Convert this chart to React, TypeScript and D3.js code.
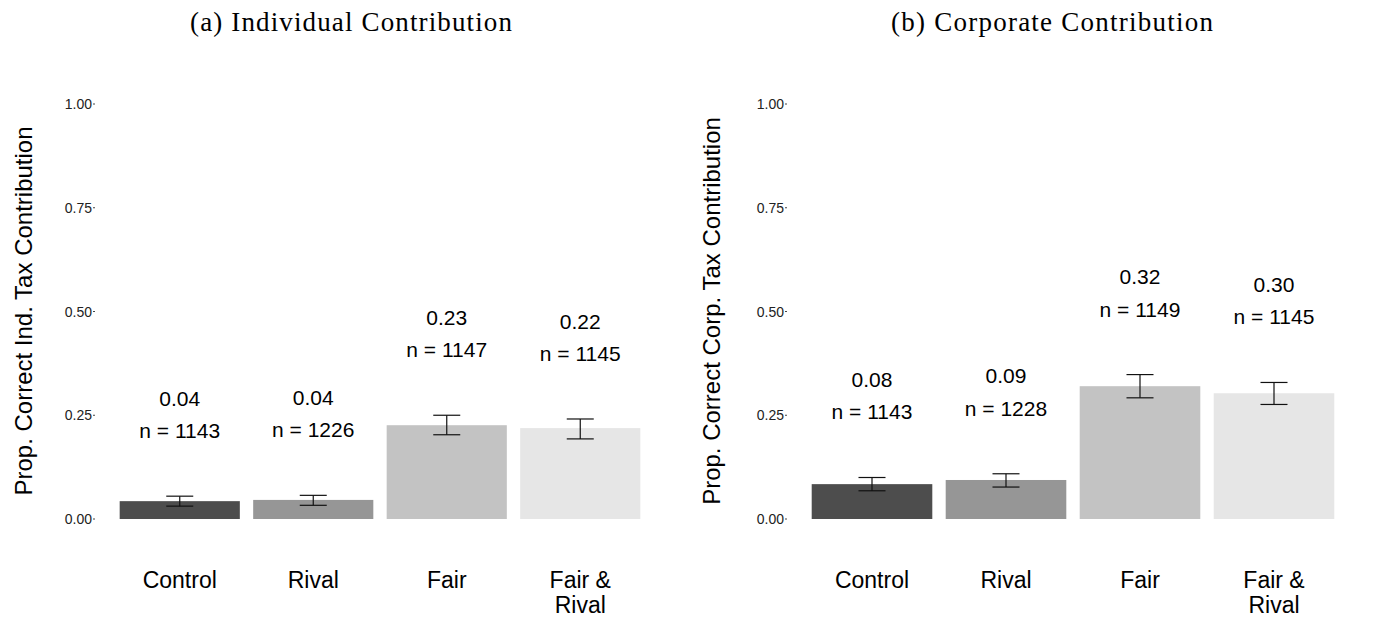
import React, { useEffect, useRef } from 'react';
import * as d3 from 'd3';

const categories = ['Control', 'Rival', 'Fair', 'Fair & Rival'];
const fills = ['#4d4d4d', '#969696', '#c3c3c3', '#e6e6e6'];
const yTicks = [0, 0.25, 0.5, 0.75, 1];

const indMean = [0.043, 0.046, 0.226, 0.219];
const indLower = [0.031, 0.033, 0.203, 0.193];
const indUpper = [0.055, 0.057, 0.25, 0.241];
const indLabel = ['0.04', '0.04', '0.23', '0.22'];
const indN = [1143, 1226, 1147, 1145];

const corpMean = [0.084, 0.094, 0.32, 0.303];
const corpLower = [0.068, 0.077, 0.292, 0.276];
const corpUpper = [0.1, 0.109, 0.348, 0.329];
const corpLabel = ['0.08', '0.09', '0.32', '0.30'];
const corpN = [1143, 1228, 1149, 1145];

const panels = [
  {
    title: '(a) Individual Contribution',
    yTitle: 'Prop. Correct Ind. Tax Contribution',
    mean: indMean, lower: indLower, upper: indUpper, label: indLabel, n: indN,
    left: 0,
  },
  {
    title: '(b) Corporate Contribution',
    yTitle: 'Prop. Correct Corp. Tax Contribution',
    mean: corpMean, lower: corpLower, upper: corpUpper, label: corpLabel, n: corpN,
    left: 688,
  },
];

const App = () => {
  const svgRef = useRef<SVGSVGElement | null>(null);

  useEffect(() => {
    const svg = d3.select(svgRef.current);
    svg.selectAll('*').remove();

    const sans = 'Liberation Sans, Arial, sans-serif';

    const y = d3.scaleLinear().domain([0, 1]).range([519, 104]);

    panels.forEach((p, pi) => {
      const g = svg.append('g').attr('transform', `translate(${p.left},0)`);
      // plot area in panel coords
      const x0 = pi === 0 ? 113 : 117;
      const x1 = pi === 0 ? 647 : 653;
      const x = d3.scalePoint<string>().domain(categories).range([x0, x1]).padding(0.5);
      const bw = x.step() * 0.9;
      const axisX = x0 - 19;

      // title
      g.append('text')
        .attr('x', pi === 0 ? 351 : 364)
        .attr('y', 31)
        .attr('text-anchor', 'middle')
        .attr('font-family', 'Liberation Serif, Times New Roman, serif')
        .attr('font-size', 27)
        .attr('textLength', 322)
        .attr('lengthAdjust', 'spacing')
        .text(p.title);

      // y axis title
      g.append('text')
        .attr('transform', `translate(32,311) rotate(-90)`)
        .attr('text-anchor', 'middle')
        .attr('font-family', sans)
        .attr('font-size', 24)
        .attr('fill', '#000')
        .text(p.yTitle);

      // y ticks
      const ticks = g.append('g');
      yTicks.forEach(t => {
        ticks.append('text')
          .attr('x', axisX - 2)
          .attr('y', y(t) + 5)
          .attr('text-anchor', 'end')
          .attr('font-family', sans)
          .attr('font-size', 14)
          .attr('fill', '#222')
          .text(d3.format('.2f')(t));
        ticks.append('line')
          .attr('x1', axisX - 1).attr('x2', axisX + 1)
          .attr('y1', y(t)).attr('y2', y(t))
          .attr('stroke', '#444')
          .attr('stroke-width', 1);
      });

      // bars
      g.selectAll('rect.bar')
        .data(categories)
        .enter()
        .append('rect')
        .attr('class', 'bar')
        .attr('x', d => (x(d) as number) - bw / 2)
        .attr('width', bw)
        .attr('y', (d, i) => y(p.mean[i]))
        .attr('height', (d, i) => y(0) - y(p.mean[i]))
        .attr('fill', (d, i) => fills[i]);

      // error bars
      const cap = 13.5;
      categories.forEach((c, i) => {
        const cx = x(c) as number;
        const eb = g.append('g').attr('stroke', '#111').attr('stroke-width', 1.2);
        eb.append('line').attr('x1', cx).attr('x2', cx).attr('y1', y(p.lower[i])).attr('y2', y(p.upper[i]));
        eb.append('line').attr('x1', cx - cap).attr('x2', cx + cap).attr('y1', y(p.lower[i])).attr('y2', y(p.lower[i]));
        eb.append('line').attr('x1', cx - cap).attr('x2', cx + cap).attr('y1', y(p.upper[i])).attr('y2', y(p.upper[i]));

        // value and n labels
        g.append('text')
          .attr('x', cx)
          .attr('y', y(p.upper[i] + 0.236) + 7.5)
          .attr('text-anchor', 'middle')
          .attr('font-family', sans)
          .attr('font-size', 21)
          .attr('fill', '#000')
          .text(p.label[i]);
        g.append('text')
          .attr('x', cx)
          .attr('y', y(p.upper[i] + 0.158) + 7.5)
          .attr('text-anchor', 'middle')
          .attr('font-family', sans)
          .attr('font-size', 21)
          .attr('fill', '#000')
          .text(`n = ${p.n[i]}`);

        // x tick labels
        const lines = c === 'Fair & Rival' ? ['Fair &', 'Rival'] : [c];
        lines.forEach((ln, li) => {
          g.append('text')
            .attr('x', cx)
            .attr('y', 588 + li * 25)
            .attr('text-anchor', 'middle')
            .attr('font-family', sans)
            .attr('font-size', 23)
            .attr('fill', '#000')
            .text(ln);
        });
      });
    });
  }, []);

  return (
    <svg ref={svgRef} width={1376} height={618}
      style={{ position: 'absolute', left: 0, top: 0, background: '#fff' }}></svg>
  );
};

export default App;
